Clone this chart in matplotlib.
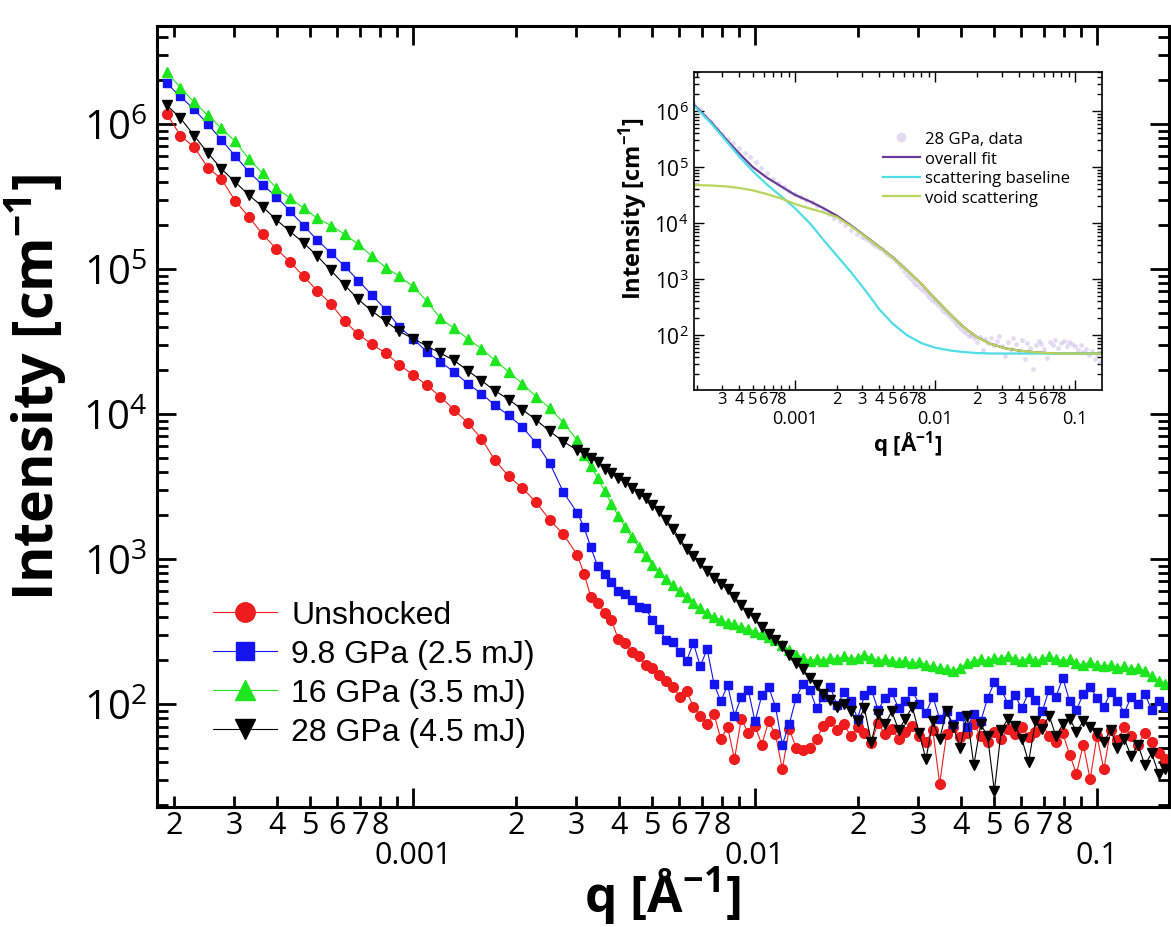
import matplotlib.pyplot as plt
import numpy as np
from matplotlib.ticker import LogLocator, FuncFormatter, NullFormatter

plt.rcParams['font.family'] = ['Open Sans', 'DejaVu Sans']
plt.rcParams['mathtext.fontset'] = 'custom'
plt.rcParams['mathtext.rm'] = 'Open Sans'
plt.rcParams['mathtext.bf'] = 'Open Sans:bold'
plt.rcParams['mathtext.it'] = 'Open Sans:italic'

# q values [1/A] shared by the four measured curves
q = [1.905e-4, 2.089e-4, 2.291e-4, 2.512e-4, 2.754e-4, 3.020e-4, 3.311e-4, 3.631e-4,
     3.981e-4, 4.365e-4, 4.786e-4, 5.248e-4, 5.754e-4, 6.310e-4, 6.918e-4, 7.586e-4,
     8.318e-4, 9.120e-4, 1.000e-3, 1.096e-3, 1.202e-3, 1.318e-3, 1.445e-3, 1.585e-3,
     1.738e-3, 1.905e-3, 2.089e-3, 2.291e-3, 2.512e-3, 2.754e-3, 3.020e-3,
     3.162e-3, 3.311e-3, 3.467e-3, 3.631e-3, 3.802e-3, 3.981e-3, 4.169e-3, 4.365e-3,
     4.571e-3, 4.786e-3, 5.012e-3, 5.248e-3, 5.495e-3, 5.754e-3, 6.026e-3, 6.310e-3,
     6.607e-3, 6.918e-3, 7.244e-3, 7.586e-3, 7.943e-3, 8.318e-3, 8.710e-3, 9.120e-3,
     9.550e-3, 1.000e-2, 1.047e-2, 1.096e-2, 1.148e-2, 1.202e-2, 1.259e-2, 1.318e-2,
     1.380e-2, 1.445e-2, 1.514e-2, 1.585e-2, 1.660e-2, 1.738e-2, 1.820e-2, 1.905e-2,
     1.995e-2, 2.089e-2, 2.188e-2, 2.291e-2, 2.399e-2, 2.512e-2, 2.630e-2, 2.754e-2,
     2.884e-2, 3.020e-2, 3.162e-2, 3.311e-2, 3.467e-2, 3.631e-2, 3.802e-2, 3.981e-2,
     4.169e-2, 4.365e-2, 4.571e-2, 4.786e-2, 5.012e-2, 5.248e-2, 5.495e-2, 5.754e-2,
     6.026e-2, 6.310e-2, 6.607e-2, 6.918e-2, 7.244e-2, 7.586e-2, 7.943e-2, 8.318e-2,
     8.710e-2, 9.120e-2, 9.550e-2, 0.1000, 0.1047, 0.1096, 0.1148, 0.1202, 0.1259,
     0.1318, 0.1380, 0.1445, 0.1514, 0.1585]

# log10 of intensity [1/cm]
log_unshocked = [6.07, 5.92, 5.84, 5.70, 5.62, 5.47, 5.36, 5.24, 5.14, 5.05,
                 4.95, 4.85, 4.76, 4.64, 4.55, 4.48, 4.42, 4.34, 4.27, 4.20,
                 4.12, 4.03, 3.94, 3.83, 3.68, 3.57, 3.49, 3.39, 3.27, 3.17, 3.03,
                 2.90, 2.74, 2.70, 2.63, 2.58, 2.45, 2.42, 2.36, 2.33, 2.27,
                 2.25, 2.20, 2.16, 2.12, 2.05, 2.09, 1.98, 1.92, 1.86, 1.93,
                 1.76, 1.84, 1.62, 1.90, 1.80, 1.85, 1.72, 1.88, 1.79, 1.55,
                 1.83, 1.70, 1.68, 1.70, 1.76, 1.85, 1.88, 1.82, 1.86, 1.78,
                 1.84, 1.80, 1.73, 1.87, 1.79, 1.83, 1.76, 1.81, 1.85, 1.78,
                 1.74, 1.82, 1.45, 1.79, 1.84, 1.77, 1.80, 1.86, 1.78, 1.74,
                 1.81, 1.76, 1.83, 1.79, 1.84, 1.77, 1.81, 1.86, 1.78, 1.74,
                 1.80, 1.65, 1.52, 1.72, 1.48, 1.78, 1.55, 1.82, 1.75, 1.84,
                 1.78, 1.72, 1.80, 1.74, 1.66, 1.62]
log_98gpa = [6.28, 6.19, 6.10, 6.00, 5.89, 5.78, 5.67, 5.58, 5.50, 5.40,
             5.30, 5.20, 5.11, 5.02, 4.92, 4.82, 4.72, 4.60, 4.52, 4.43,
             4.36, 4.29, 4.21, 4.14, 4.06, 3.99, 3.91, 3.80, 3.66, 3.46, 3.32,
             3.22, 3.08, 2.95, 2.90, 2.84, 2.78, 2.76, 2.72, 2.67, 2.66,
             2.58, 2.52, 2.44, 2.43, 2.36, 2.30, 2.42, 2.26, 2.38, 2.14,
             2.02, 2.13, 1.92, 2.05, 2.10, 1.88, 2.06, 2.12, 1.98, 1.72,
             1.86, 2.04, 2.14, 2.10, 1.97, 2.05, 2.12, 1.99, 2.08, 2.02,
             1.90, 2.06, 2.10, 1.96, 2.04, 2.08, 1.97, 2.02, 2.09, 2.00,
             1.94, 2.05, 1.90, 1.95, 1.86, 1.92, 1.84, 1.93, 1.88, 2.04,
             2.15, 2.10, 2.00, 2.06, 1.97, 2.08, 2.03, 1.95, 2.10, 2.05,
             2.18, 2.02, 1.96, 2.07, 2.12, 2.04, 1.98, 2.08, 2.02, 1.94,
             2.05, 2.00, 2.07, 1.96, 2.02, 1.98]
log_16gpa = [6.36, 6.25, 6.15, 6.06, 5.97, 5.88, 5.76, 5.66, 5.56, 5.49,
             5.42, 5.35, 5.30, 5.24, 5.17, 5.09, 5.01, 4.95, 4.88, 4.78,
             4.66, 4.59, 4.52, 4.45, 4.37, 4.29, 4.21, 4.12, 4.04, 3.94, 3.82,
             3.72, 3.64, 3.56, 3.47, 3.38, 3.30, 3.22, 3.15, 3.08, 3.02,
             2.96, 2.91, 2.86, 2.82, 2.78, 2.74, 2.70, 2.66, 2.63, 2.60,
             2.58, 2.56, 2.55, 2.53, 2.52, 2.50, 2.48, 2.46, 2.44, 2.41,
             2.37, 2.34, 2.32, 2.30, 2.31, 2.30, 2.32, 2.31, 2.33, 2.31,
             2.32, 2.34, 2.32, 2.30, 2.31, 2.30, 2.29, 2.30, 2.28, 2.29,
             2.27, 2.26, 2.25, 2.24, 2.23, 2.25, 2.28, 2.30, 2.31, 2.30,
             2.32, 2.31, 2.33, 2.31, 2.30, 2.32, 2.30, 2.31, 2.33, 2.31,
             2.30, 2.31, 2.28, 2.27, 2.29, 2.27, 2.26, 2.27, 2.25, 2.26,
             2.24, 2.25, 2.23, 2.19, 2.16, 2.14]
log_28gpa = [6.13, 6.04, 5.92, 5.80, 5.69, 5.60, 5.51, 5.43, 5.34, 5.26,
             5.18, 5.09, 4.99, 4.89, 4.79, 4.71, 4.64, 4.57, 4.52, 4.47,
             4.42, 4.37, 4.30, 4.23, 4.16, 4.10, 4.03, 3.96, 3.88, 3.81, 3.75,
             3.73, 3.70, 3.67, 3.62, 3.59, 3.56, 3.53, 3.49, 3.45, 3.42,
             3.37, 3.33, 3.27, 3.21, 3.14, 3.07, 3.02, 2.97, 2.92, 2.87,
             2.83, 2.79, 2.74, 2.68, 2.63, 2.59, 2.53, 2.48, 2.44, 2.40,
             2.34, 2.28, 2.24, 2.18, 2.13, 2.07, 2.03, 1.98, 2.00, 1.95,
             1.88, 1.97, 1.74, 1.93, 1.86, 1.95, 1.82, 1.90, 1.98, 1.80,
             1.62, 1.88, 1.76, 1.95, 1.84, 1.70, 1.92, 1.58, 1.86, 1.78,
             1.40, 1.82, 1.90, 1.85, 1.76, 1.60, 1.88, 1.83, 1.92, 1.78,
             1.86, 1.90, 1.81, 1.88, 1.84, 1.80, 1.74, 1.82, 1.70, 1.76,
             1.64, 1.72, 1.58, 1.66, 1.52, 1.55]

labels = ['Unshocked', '9.8 GPa (2.5 mJ)', '16 GPa (3.5 mJ)', '28 GPa (4.5 mJ)']

# inset: fit curves for the 28 GPa sample
q_fit = [1.9e-4, 2.5e-4, 3.2e-4, 4e-4, 5e-4, 6.3e-4, 8e-4, 1e-3, 1.3e-3, 1.6e-3,
         2e-3, 2.5e-3, 3.2e-3, 4e-3, 5e-3, 6.3e-3, 8e-3, 1e-2, 1.3e-2, 1.6e-2,
         2e-2, 2.5e-2, 3.2e-2, 4e-2, 5e-2, 6.3e-2, 8e-2, 0.1, 0.13, 0.16]
overall_fit = [1.3e6, 6.5e5, 3.2e5, 1.75e5, 1.0e5, 6.5e4, 4.5e4, 3.2e4, 2.4e4, 1.85e4,
               1.35e4, 9.2e3, 5.8e3, 3.8e3, 2.45e3, 1.45e3, 820, 450, 230, 140,
               92, 70, 58, 53, 50, 48, 47, 47, 47, 47]
baseline = [1.25e6, 6.2e5, 3.0e5, 1.55e5, 8.5e4, 4.9e4, 3.0e4, 1.85e4, 9.5e3, 5.0e3,
            2.6e3, 1.35e3, 620, 290, 160, 100, 72, 60, 53, 50,
            48, 47, 47, 47, 47, 47, 47, 47, 47, 47]
void = [4.8e4, 4.7e4, 4.55e4, 4.25e4, 3.85e4, 3.3e4, 2.75e4, 2.2e4, 1.8e4, 1.55e4,
        1.28e4, 8.9e3, 5.7e3, 3.75e3, 2.42e3, 1.45e3, 820, 450, 230, 140,
        92, 70, 58, 53, 50, 48, 47, 47, 47, 47]

W, H = 1171, 928
fig = plt.figure(figsize=(W / 100, H / 100), dpi=100)
ax = fig.add_axes([157 / W, 1 - 808 / H, (1169 - 157) / W, (808 - 27) / H])

styles = [('o', '#ee1c1c', 7.0), ('s', '#1414f0', 6.3), ('^', '#1ee61e', 7.5), ('v', '#000000', 7.0)]
series = [log_unshocked, log_98gpa, log_16gpa, log_28gpa]
for vals, (m, c, ms), lab in zip(series, styles, labels):
    ax.plot(q, 10 ** np.array(vals), marker=m, color=c, ms=ms, mec=c, lw=0.8, label=lab)

ax.set_xscale('log')
ax.set_yscale('log')
ax.set_xlim(1.784e-4, 0.1624)
ax.set_ylim(19.5, 4.74e6)

def major_x(v, pos):
    names = {-3: '0.001', -2: '0.01', -1: '0.1'}
    return names.get(int(round(np.log10(v))), '')

def minor_x(v, pos):
    d = int(round(v / 10 ** np.floor(np.log10(v) + 1e-9)))
    return str(d) if 2 <= d <= 8 else ''

ax.xaxis.set_major_locator(LogLocator(base=10))
ax.xaxis.set_minor_locator(LogLocator(base=10, subs=np.arange(2, 10)))
ax.xaxis.set_major_formatter(FuncFormatter(major_x))
ax.xaxis.set_minor_formatter(FuncFormatter(minor_x))
ax.yaxis.set_minor_locator(LogLocator(base=10, subs=np.arange(2, 10)))
ax.yaxis.set_minor_formatter(NullFormatter())

for s in ax.spines.values():
    s.set_linewidth(2.2)
ax.tick_params(which='both', direction='in', top=True, right=True, width=2.0)
ax.tick_params(which='major', length=14)
ax.tick_params(which='minor', length=8)
ax.tick_params(axis='x', which='minor', pad=2.5, labelsize=22)
ax.tick_params(axis='x', which='major', pad=23.5, labelsize=22)
ax.tick_params(axis='y', which='major', pad=7, labelsize=29)

ax.legend(loc='upper left', bbox_to_anchor=(213 / W, 1 - 601 / H), bbox_transform=fig.transFigure,
          frameon=False, borderpad=0, borderaxespad=0, handlelength=2.0, handletextpad=0.45,
          labelspacing=0.28, markerscale=2.0, prop={'family': 'Liberation Sans', 'size': 23})

fig.text(35 / W, 1 - 387 / H, r'Intensity [cm$^{\mathbf{-1}}$]', rotation=90, ha='center', va='center',
         fontsize=40, fontweight='bold')
fig.text(662 / W, 1 - 897 / H, r'q [Å$^{\mathbf{-1}}$]', ha='center', va='center',
         fontsize=37, fontweight='bold')

# inset
ax2 = fig.add_axes([694 / W, 1 - 391 / H, (1102 - 694) / W, (391 - 73) / H])
ax2.set_facecolor('white')
ax2.plot(q, 10 ** np.array(log_28gpa), 'o', color='#b9a6e0', ms=3.5, alpha=0.4, mew=0,
         label='28 GPa, data')
ax2.plot(q_fit, overall_fit, color='#6a3d9a', lw=1.6, label='overall fit')
ax2.plot(q_fit, baseline, color='#4fdde6', lw=1.6, label='scattering baseline')
ax2.plot(q_fit, void, color='#b8d45a', lw=1.6, label='void scattering')
ax2.set_xscale('log')
ax2.set_yscale('log')
ax2.set_xlim(1.9e-4, 0.156)
ax2.set_ylim(10.5, 5e6)

def minor_x_inset(v, pos):
    return '' if v < 2.5e-4 else minor_x(v, pos)

ax2.xaxis.set_major_locator(LogLocator(base=10))
ax2.xaxis.set_minor_locator(LogLocator(base=10, subs=np.arange(2, 10)))
ax2.xaxis.set_major_formatter(FuncFormatter(major_x))
ax2.xaxis.set_minor_formatter(FuncFormatter(minor_x_inset))
ax2.yaxis.set_major_locator(LogLocator(base=10))
ax2.yaxis.set_minor_locator(LogLocator(base=10, subs=np.arange(2, 10)))
ax2.yaxis.set_minor_formatter(NullFormatter())
for s in ax2.spines.values():
    s.set_linewidth(1.2)
ax2.tick_params(which='both', direction='in', top=True, right=True, width=1.0)
ax2.tick_params(which='major', length=7)
ax2.tick_params(which='minor', length=3.5)
ax2.tick_params(axis='x', which='minor', pad=1, labelsize=12)
ax2.tick_params(axis='x', which='major', pad=14, labelsize=13)
ax2.tick_params(axis='y', which='major', pad=4, labelsize=15)

ax2.legend(loc='upper left', bbox_to_anchor=(883 / W, 1 - 132 / H), bbox_transform=fig.transFigure,
           frameon=False, borderpad=0, borderaxespad=0, handlelength=2.2, handletextpad=0.3,
           labelspacing=0.22, numpoints=1, markerscale=2.0, fontsize=12)

fig.text(633 / W, 1 - 209 / H, r'Intensity [cm$^{\mathbf{-1}}$]', rotation=90, ha='center', va='center',
         fontsize=17, fontweight='bold')
fig.text(908 / W, 1 - 445 / H, r'q [Å$^{\mathbf{-1}}$]', ha='center', va='center',
         fontsize=16, fontweight='bold')

fig.savefig('out.png', dpi=100)
